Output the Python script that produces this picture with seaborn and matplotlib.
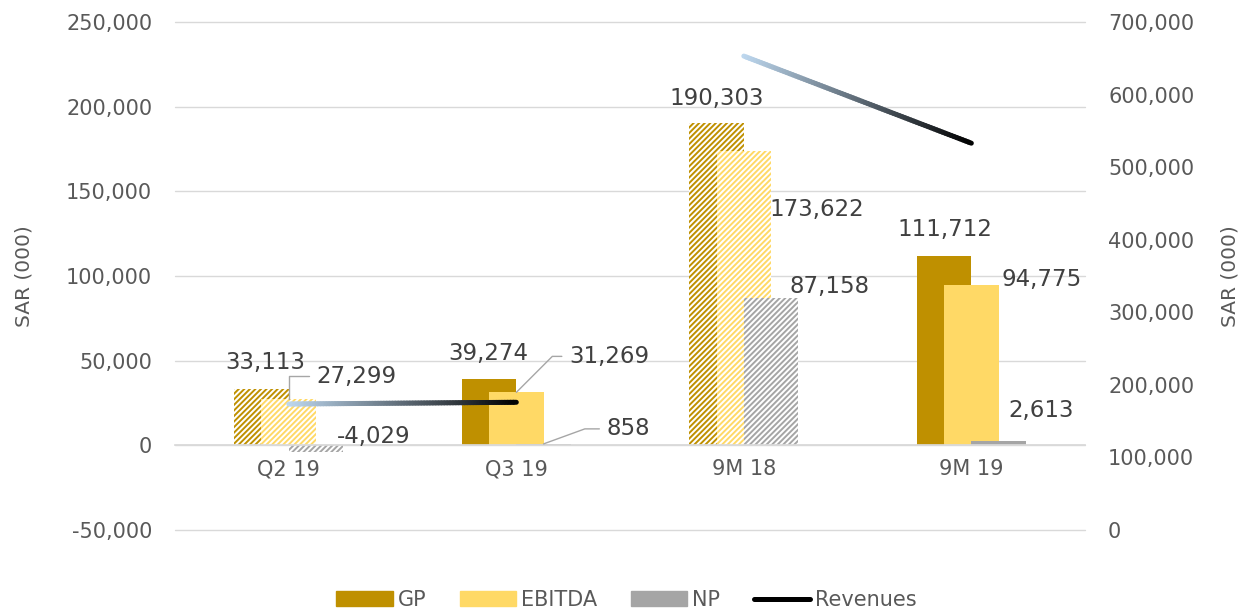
import numpy as np
import matplotlib
matplotlib.use('Agg')
import matplotlib.pyplot as plt
import seaborn as sns
from matplotlib.collections import LineCollection
from matplotlib.colors import LinearSegmentedColormap
from matplotlib.patches import Patch
from matplotlib.lines import Line2D
from matplotlib.ticker import FuncFormatter, MultipleLocator

# ---------------------- DATA ----------------------
categories = ['Q2 19', 'Q3 19', '9M 18', '9M 19']
gp = [33113, 39274, 190303, 111712]
ebitda = [27299, 31269, 173622, 94775]
np_vals = [-4029, 858, 87158, 2613]
revenues = [173600, 176000, 653000, 533000]
hatched = ['Q2 19', '9M 18']
rev_groups = [['Q2 19', 'Q3 19'], ['9M 18', '9M 19']]

series = [
    ('GP', gp, '#BF9000', -0.12),
    ('EBITDA', ebitda, '#FFD966', 0.0),
    ('NP', np_vals, '#A5A5A5', 0.12),
]

# label offsets in pixels (dx, dy) from the bar end
label_offsets = {
    'GP': [(4, 27), (-1, 25), (0, 25), (1, 27)],
    'EBITDA': [(68, 23), (93, 36), (73, -58), (70, 5)],
    'NP': [(58, 16), (85, 15), (58, 11), (42, 30)],
}
leaders = {('EBITDA', 0): 90, ('EBITDA', 1): 45, ('NP', 1): 20}

sns.set_theme(style='white')
plt.rcParams['font.family'] = ['DejaVu Sans']
plt.rcParams['hatch.linewidth'] = 1.4

tick_col = '#595959'
lab_col = '#404040'
grid_col = '#D9D9D9'
fmt = FuncFormatter(lambda v, pos: f'{v:,.0f}')

fig = plt.figure(figsize=(12.53, 6.14), dpi=100)
ax = fig.add_axes([0.1397, 0.1368, 0.7263, 0.8274])

for name, vals, color, off in series:
    n_before = len(ax.patches)
    sns.barplot(x=categories, y=vals, color=color, width=0.24, saturation=1,
                errorbar=None, ax=ax)
    for i, p in enumerate(ax.patches[n_before:]):
        p.set_x(p.get_x() + off)
        p.set_linewidth(0)
        if categories[i] in hatched:
            p.set_facecolor('white')
            p.set_edgecolor(color)
            p.set_hatch('//////')

# ---------------------- LABELS ----------------------
for name, vals, color, off in series:
    for i, v in enumerate(vals):
        dx, dy = label_offsets[name][i]
        kw = {}
        if (name, i) in leaders:
            kw['arrowprops'] = dict(arrowstyle='-', color='#A6A6A6', lw=1,
                                    shrinkA=3, shrinkB=0, relpos=(0, 0.5),
                                    connectionstyle=f'angle,angleA=0,angleB={leaders[(name, i)]},rad=0')
        ax.annotate(f'{v:,}', xy=(i + off, v), xytext=(dx, dy),
                    textcoords='offset pixels', ha='center', va='center',
                    fontsize=16.5, color=lab_col, **kw)

ax.set_xlim(-0.5, 3.5)
ax.set_ylim(-50000, 250000)
ax.yaxis.set_major_locator(MultipleLocator(50000))
ax.yaxis.set_major_formatter(fmt)
ax.yaxis.grid(True, color=grid_col, lw=1)
for gl in ax.get_ygridlines():
    gl.set_clip_on(False)
ax.set_axisbelow(True)
for s in ['top', 'left', 'right']:
    ax.spines[s].set_visible(False)
ax.spines['bottom'].set_position(('data', 0))
ax.spines['bottom'].set_color(grid_col)
ax.tick_params(axis='y', length=0, pad=16.5, labelsize=15, labelcolor=tick_col)
ax.tick_params(axis='x', length=0, pad=10, labelsize=15, labelcolor=tick_col)
ax.set_xlabel('')
ax.set_ylabel('SAR (000)', fontsize=14.5, color=tick_col)
ax.yaxis.set_label_coords(-0.156, 0.5)

# ---------------------- REVENUES (secondary axis) ----------------------
ax2 = ax.twinx()
cmap = LinearSegmentedColormap.from_list('rev', ['#BDD7EE', '#000000'])
for grp in rev_groups:
    idx = [categories.index(c) for c in grp]
    xs = np.array(idx, dtype=float)
    ys = np.array([revenues[k] for k in idx], dtype=float)
    t = np.linspace(0, 1, 80)
    px = xs[0] + t * (xs[1] - xs[0])
    py = ys[0] + t * (ys[1] - ys[0])
    pts = np.column_stack([px, py]).reshape(-1, 1, 2)
    segs = np.concatenate([pts[:-1], pts[1:]], axis=1)
    lc = LineCollection(segs, colors=cmap(t[:-1]), linewidths=3.6, capstyle='round')
    ax2.add_collection(lc)

ax2.set_ylim(0, 700000)
ax2.yaxis.set_major_locator(MultipleLocator(100000))
ax2.yaxis.set_major_formatter(fmt)
for s in ax2.spines.values():
    s.set_visible(False)
ax2.grid(False)
ax2.tick_params(axis='y', length=0, pad=16.5, labelsize=15, labelcolor=tick_col)
ax2.set_ylabel('SAR (000)', fontsize=14.5, color=tick_col)
ax2.yaxis.set_label_coords(1.149, 0.5)

# ---------------------- LEGEND ----------------------
handles = [Patch(color=c) for _, _, c, _ in series]
handles.append(Line2D([], [], color='black', lw=3.6, solid_capstyle='round'))
leg = fig.legend(handles, ['GP', 'EBITDA', 'NP', 'Revenues'], loc='center',
                 bbox_to_anchor=(0.5, 0.023), ncol=4, frameon=False, fontsize=15,
                 handlelength=2.7, handletextpad=0.25, columnspacing=1.6)
for t in leg.get_texts():
    t.set_color(tick_col)

fig.savefig('out.png', dpi=100)
